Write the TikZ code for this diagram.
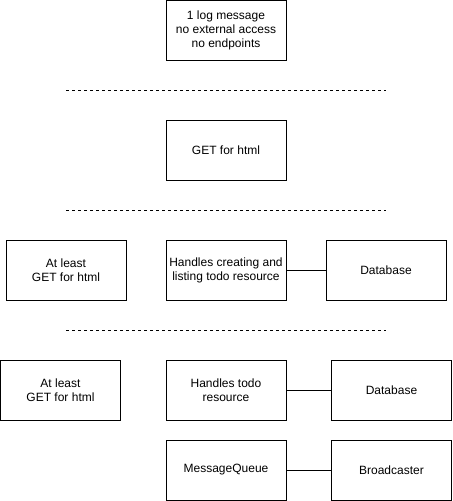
\documentclass[tikz,border=0pt]{standalone}
\usepackage{fontspec}
\setmainfont{Liberation Sans}
\begin{document}
\begin{tikzpicture}[x=0.75pt,y=-0.75pt, every node/.style={font=\fontsize{9pt}{10.5pt}\selectfont},
  box/.style={draw, line width=0.75pt, minimum width=90pt, minimum height=45pt, align=center, inner sep=0pt},
  sep/.style={dash pattern=on 2.25pt off 2.25pt, line width=0.75pt}]
\useasboundingbox (0,0) rectangle (453,501);
% stage 1
\node[box] (logmsg) at (226,30.5) {1 log message\\no external access\\no endpoints};
\draw[sep] (66,90) -- (386,90);
% stage 2
\node[box] (gethtml) at (226,150) {GET for html};
\draw[sep] (66,210) -- (386,210);
% stage 3
\node[box] (leastA) at (66,270) {At least\\GET for html};
\node[box] (todoA) at (226,270) {Handles creating and\\listing todo resource};
\node[box] (dbA) at (386,270) {Database};
\draw[line width=0.75pt] (todoA) -- (dbA);
\draw[sep] (66,330) -- (386,330);
% stage 4
\node[box] (leastB) at (60.5,390) {At least\\GET for html};
\node[box] (todoB) at (226,390) {Handles todo\\resource};
\node[box] (dbB) at (391.5,390) {Database};
\node[box] (queue) at (226,470) {MessageQueue};
\node[box] (bcast) at (391.5,470) {Broadcaster};
\draw[line width=0.75pt] (todoB) -- (dbB);
\draw[line width=0.75pt] (queue) -- (bcast);
\end{tikzpicture}
\end{document}
